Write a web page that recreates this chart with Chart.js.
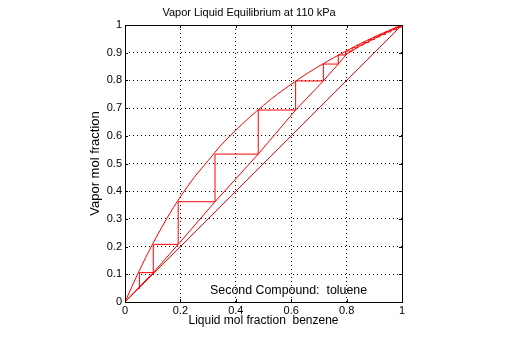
<!DOCTYPE html>
<html>
<head>
<meta charset="utf-8">
<title>Vapor Liquid Equilibrium</title>
<script src="https://cdn.jsdelivr.net/npm/chart.js@4.4.1/dist/chart.umd.min.js"></script>
<style>
  html, body { margin: 0; padding: 0; background: #fff; }
  canvas { display: block; }
</style>
</head>
<body>
<canvas id="vleChart" width="512" height="340"></canvas>
<script>
// equilibrium curve, benzene in toluene
const eqX = [0, 0.05, 0.1, 0.15, 0.2, 0.25, 0.3, 0.35, 0.4, 0.45, 0.5, 0.55, 0.6, 0.65, 0.7, 0.75, 0.8, 0.85, 0.9, 0.95, 1];
const eqY = [0, 0.11, 0.21, 0.30, 0.38, 0.45, 0.51, 0.57, 0.62, 0.667, 0.71, 0.75, 0.786, 0.82, 0.851, 0.88, 0.907, 0.933, 0.957, 0.979, 1];

// operating line
const opX = [0, 0.052, 0.102, 0.192, 0.325, 0.481, 0.616, 0.716, 0.77, 0.8, 0.85, 0.9, 0.95, 1];
const opY = [0, 0.055, 0.106, 0.208, 0.362, 0.534, 0.693, 0.798, 0.859, 0.895, 0.925, 0.951, 0.976, 1];

// stage steps
const stepX = [0.052, 0.052, 0.102, 0.102, 0.192, 0.192, 0.325, 0.325, 0.481, 0.481, 0.616, 0.616, 0.716, 0.716, 0.77, 0.77,
  0.797, 0.797, 0.82, 0.82, 0.84, 0.84, 0.86, 0.86, 0.88, 0.88, 0.9, 0.9, 0.92, 0.92, 0.94, 0.94, 0.96, 0.96, 0.98, 0.98, 1, 1];
const stepY = [0.047, 0.106, 0.106, 0.208, 0.208, 0.362, 0.362, 0.534, 0.534, 0.693, 0.693, 0.798, 0.798, 0.859, 0.859, 0.892,
  0.892, 0.906, 0.906, 0.918, 0.918, 0.928, 0.928, 0.937, 0.937, 0.947, 0.947, 0.957, 0.957, 0.966, 0.966, 0.975, 0.975, 0.983, 0.983, 0.992, 0.992, 1];

const diagX = [0, 1];
const diagY = [0, 1];

const xTicks = [0, 0.2, 0.4, 0.6, 0.8, 1];
const yTicks = [0, 0.1, 0.2, 0.3, 0.4, 0.5, 0.6, 0.7, 0.8, 0.9, 1];

const titleText = 'Vapor Liquid Equilibrium at 110 kPa';
const noteText = 'Second Compound:  toluene';

const FONT = '"Liberation Sans", Arial, Helvetica, sans-serif';

function toPoints(xs, ys) {
    return xs.map((x, i) => ({ x: x, y: ys[i] }));
}

function redLine(data, smooth) {
    return {
        data: data,
        showLine: true,
        borderColor: '#ff0000',
        borderWidth: 1,
        pointRadius: 0,
        fill: false,
        cubicInterpolationMode: smooth ? 'monotone' : 'default',
        tension: 0
    };
}

// labels like 0, 0.1 ... 1 (no trailing .0)
const tickLabel = (v) => String(Math.round(v * 10) / 10);

// hide the grid lines that sit on the box edges
const gridColor = (ctx) => (ctx.tick && (ctx.tick.value === 0 || ctx.tick.value === 1)) ? 'rgba(0,0,0,0)' : '#000';

// title, box, inward tick marks and the compound note
const frame = {
    id: 'frame',
    beforeDatasetsDraw(chart) {
        const { ctx, scales } = chart;
        ctx.save();
        ctx.fillStyle = '#000';
        ctx.textBaseline = 'middle';
        ctx.font = '12.4px ' + FONT;
        ctx.textAlign = 'left';
        ctx.fillText(noteText, scales.x.getPixelForValue(0.307), scales.y.getPixelForValue(0.042));
        ctx.font = '11px ' + FONT;
        ctx.textAlign = 'center';
        ctx.fillText(titleText, 249, 12.5);
        ctx.restore();
    },
    afterDatasetsDraw(chart) {
        const { ctx, chartArea: a, scales } = chart;
        const tl = 3;
        ctx.save();
        ctx.strokeStyle = '#000';
        ctx.lineWidth = 1;
        ctx.beginPath();
        xTicks.forEach(v => {
            const px = Math.round(scales.x.getPixelForValue(v)) + 0.5;
            ctx.moveTo(px, a.bottom); ctx.lineTo(px, a.bottom - tl);
            ctx.moveTo(px, a.top); ctx.lineTo(px, a.top + tl);
        });
        yTicks.forEach(v => {
            const py = Math.round(scales.y.getPixelForValue(v)) + 0.5;
            ctx.moveTo(a.left, py); ctx.lineTo(a.left + tl, py);
            ctx.moveTo(a.right, py); ctx.lineTo(a.right - tl, py);
        });
        ctx.stroke();
        ctx.strokeRect(Math.round(a.left) + 0.5, Math.round(a.top) + 0.5,
            Math.round(a.right - a.left), Math.round(a.bottom - a.top));
        ctx.restore();
    }
};

const chart = new Chart(document.getElementById('vleChart').getContext('2d'), {
    type: 'scatter',
    data: {
        datasets: [
            redLine(toPoints(eqX, eqY), true),
            redLine(toPoints(opX, opY), false),
            redLine(toPoints(diagX, diagY), false),
            redLine(toPoints(stepX, stepY), false)
        ]
    },
    options: {
        responsive: false,
        animation: false,
        layout: { padding: { left: 0, right: 110, top: 25, bottom: 0 } },
        plugins: {
            legend: { display: false },
            tooltip: { enabled: false },
            title: { display: false }
        },
        scales: {
            x: {
                type: 'linear',
                min: 0,
                max: 1,
                afterBuildTicks: (s) => { s.ticks = xTicks.map(v => ({ value: v })); },
                afterFit: (s) => { s.height = 38; },
                ticks: { color: '#000', font: { family: FONT, size: 11 }, padding: 2, maxRotation: 0, callback: tickLabel },
                grid: { color: gridColor, lineWidth: 1, drawTicks: false },
                border: { display: false, dash: [1, 3] },
                title: {
                    display: true,
                    text: 'Liquid mol fraction  benzene',
                    color: '#000',
                    font: { family: FONT, size: 12 },
                    padding: { top: 0, bottom: 12 }
                }
            },
            y: {
                type: 'linear',
                min: 0,
                max: 1,
                afterBuildTicks: (s) => { s.ticks = yTicks.map(v => ({ value: v })); },
                afterFit: (s) => { s.width = 125; },
                ticks: { color: '#000', font: { family: FONT, size: 11 }, padding: 3, callback: tickLabel },
                grid: { color: gridColor, lineWidth: 1, drawTicks: false },
                border: { display: false, dash: [1, 3] },
                title: {
                    display: true,
                    text: 'Vapor mol fraction',
                    color: '#000',
                    font: { family: FONT, size: 13 },
                    padding: { top: 88, bottom: 0 }
                }
            }
        }
    },
    plugins: [frame]
});
</script>
</body>
</html>
